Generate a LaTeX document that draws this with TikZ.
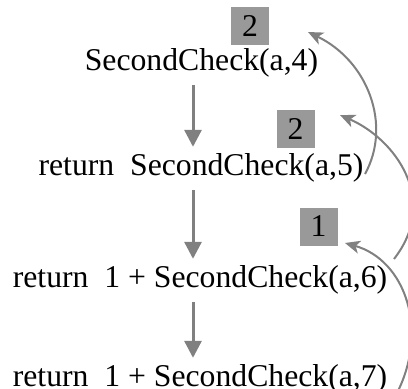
\documentclass[tikz,border=0pt]{standalone}
\usepackage{fontspec}
\setmainfont{Liberation Serif}
\usetikzlibrary{arrows.meta}
\definecolor{boxgray}{RGB}{153,153,153}
\definecolor{arrgray}{RGB}{128,128,128}
\begin{document}
\begin{tikzpicture}[x=1pt,y=-1pt,
  line/.style={inner sep=0pt,anchor=base,font=\fontsize{31.7}{38}\selectfont},
  numbox/.style={fill=boxgray,inner sep=0pt,minimum size=38pt,font=\fontsize{31.7}{38}\selectfont},
  downarr/.style={draw=arrgray,line width=3pt,-{Triangle[length=17pt,width=17pt]},shorten <=8pt,shorten >=6pt},
  backarr/.style={draw=arrgray,line width=2pt,-{Stealth[length=15pt,width=13pt,inset=4pt]}}]
\useasboundingbox (0,0) rectangle (408,389);
\node[line] (l1) at (201.5,70) {SecondCheck(a,4)};
\node[line] (l2) at (201,175) {return\ \ SecondCheck(a,5)};
\node[line] (l3) at (200,287) {return\ \ 1 + SecondCheck(a,6)};
\node[line] (l4) at (200,386) {return\ \ 1 + SecondCheck(a,7)};
\node[numbox] (b1) at (250,26) {2};
\node[numbox] (b2) at (295.5,129) {2};
\node[numbox] (b3) at (318.5,226.5) {1};
\coordinate (ax) at (193,0);
\draw[downarr] (l1.south -| ax) -- (l2.north -| ax);
\draw[downarr] (l2.south -| ax) -- (l3.north -| ax);
\draw[downarr] (l3.south -| ax) -- (l4.north -| ax);
\coordinate (s1) at (365,174);
\coordinate (t1) at (308,32);
\coordinate (s2) at (394,259);
\coordinate (t2) at (340,115);
\coordinate (s3) at (396,395);
\coordinate (t3) at (345,243);
\draw[backarr] (s1) .. controls (392,125) and (368,61) .. (t1);
\draw[backarr] (s2) .. controls (440,200) and (395,139) .. (t2);
\draw[backarr] (s3) .. controls (430,330) and (405,260) .. (t3);
\end{tikzpicture}
\end{document}
